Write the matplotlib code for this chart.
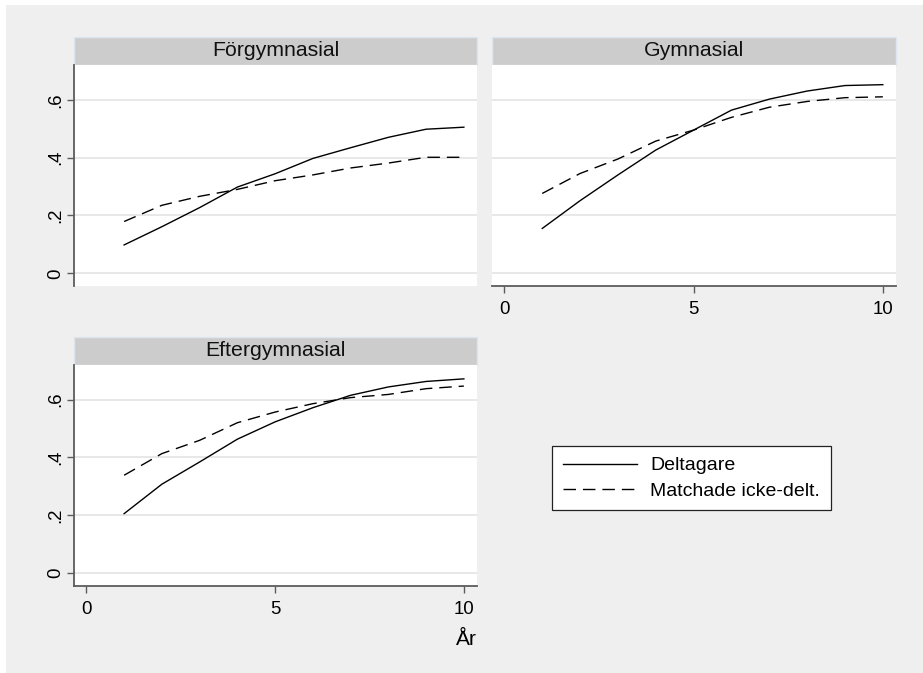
import matplotlib
matplotlib.use("Agg")
import matplotlib.pyplot as plt
from matplotlib.patches import Rectangle
from matplotlib.lines import Line2D

plt.rcParams['font.family'] = ['Liberation Sans', 'DejaVu Sans']

years = [1, 2, 3, 4, 5, 6, 7, 8, 9, 10]
panel_titles = ["Förgymnasial", "Gymnasial", "Eftergymnasial"]
series_labels = ["Deltagare", "Matchade icke-delt."]

forgym_deltagare = [0.098, 0.161, 0.227, 0.298, 0.344, 0.397, 0.434, 0.470, 0.498, 0.505]
forgym_matchade = [0.179, 0.235, 0.266, 0.290, 0.320, 0.340, 0.364, 0.381, 0.401, 0.401]
gym_deltagare = [0.155, 0.251, 0.340, 0.426, 0.495, 0.564, 0.602, 0.630, 0.649, 0.652]
gym_matchade = [0.276, 0.345, 0.395, 0.457, 0.495, 0.539, 0.574, 0.594, 0.607, 0.610]
efter_deltagare = [0.205, 0.307, 0.384, 0.463, 0.523, 0.572, 0.615, 0.644, 0.663, 0.672]
efter_matchade = [0.338, 0.413, 0.459, 0.520, 0.557, 0.586, 0.607, 0.618, 0.638, 0.647]

ytick_vals = [0, 0.2, 0.4, 0.6]
ytick_labels = ["0", ".2", ".4", ".6"]
xtick_vals = [0, 5, 10]
xtick_labels = ["0", "5", "10"]
xlabel_text = "År"

W, H = 923, 673
fig = plt.figure(figsize=(W / 100, H / 100), dpi=100)
fig.patch.set_facecolor('white')

# gray outer region
fig.patches.append(Rectangle((6 / W, 0), 1 - 6 / W, 1 - 5 / H, transform=fig.transFigure,
                             facecolor='#efefef', edgecolor='none', zorder=-10))

SPINE = '#5c5c5c'
FS_TICK = 13.4
FS_TITLE = 15.3
FS_LEG = 14


def px_axes(l, r, t, b):
    return fig.add_axes([l / W, 1 - b / H, (r - l) / W, (b - t) / H])


def title_band(l, r, t, b, text):
    fig.patches.append(Rectangle((l / W, 1 - b / H), (r - l) / W, (b - t) / H,
                                 transform=fig.transFigure, facecolor='#cccccc',
                                 edgecolor='#dde6ee', linewidth=1.0, zorder=-5))
    fig.text((l + r) / 2 / W, 1 - (t + b) / 2 / H, text, ha='center', va='center',
             fontsize=FS_TITLE, color='#111111')


panels = [
    (74.3, 476.7, 65, 286, panel_titles[0], forgym_deltagare, forgym_matchade, True, False),
    (492.3, 895.7, 65, 286, panel_titles[1], gym_deltagare, gym_matchade, False, True),
    (74.3, 476.7, 365, 585.5, panel_titles[2], efter_deltagare, efter_matchade, True, True),
]

for l, r, t, b, ttl, d1, d2, show_y, show_x in panels:
    ax = px_axes(l, r, t, b)
    title_band(l, r, t - 28, t, ttl)
    ax.set_facecolor('white')
    ax.plot(years, d1, color='black', lw=1.0, solid_joinstyle='round')
    ax.plot(years, d2, color='black', lw=1.0, dashes=(9, 5))
    ax.set_xlim(-0.32, 10.34)
    ax.set_ylim(-0.044, 0.72)
    for yv in ytick_vals:
        ax.axhline(yv, color='#e4e4e4', lw=1.2, zorder=0)
    for s in ['top', 'right']:
        ax.spines[s].set_visible(False)
    ax.spines['left'].set_visible(show_y)
    ax.spines['bottom'].set_visible(show_x)
    for s in ['left', 'bottom']:
        ax.spines[s].set_color(SPINE)
        ax.spines[s].set_linewidth(1.3)
    if show_y:
        ax.set_yticks(ytick_vals)
        ax.set_yticklabels(ytick_labels, rotation=90, va='center')
        ax.tick_params(axis='y', length=5, width=1.0, color=SPINE, pad=2, labelsize=FS_TICK)
    else:
        ax.set_yticks([])
    if show_x:
        ax.set_xticks(xtick_vals)
        ax.set_xticklabels(xtick_labels)
        ax.tick_params(axis='x', length=5, width=1.0, color=SPINE, pad=6, labelsize=FS_TICK)
    else:
        ax.set_xticks([])
    if ttl == panel_titles[2]:
        ax.set_xlabel(xlabel_text, fontsize=15, loc='right', labelpad=9)

handles = [Line2D([], [], color='black', lw=1.0),
           Line2D([], [], color='black', lw=1.0, dashes=(9, 5))]
leg = fig.legend(handles, series_labels, loc='upper left',
                 bbox_to_anchor=(552 / W, 1 - 446 / H), borderaxespad=0,
                 fontsize=FS_LEG, handlelength=3.8, handletextpad=0.7,
                 frameon=True, fancybox=False, edgecolor='#222222',
                 facecolor='white', framealpha=1, borderpad=0.55, labelspacing=0.4)
leg.get_frame().set_linewidth(0.9)

fig.savefig('out.png', dpi=100, facecolor=fig.get_facecolor())
